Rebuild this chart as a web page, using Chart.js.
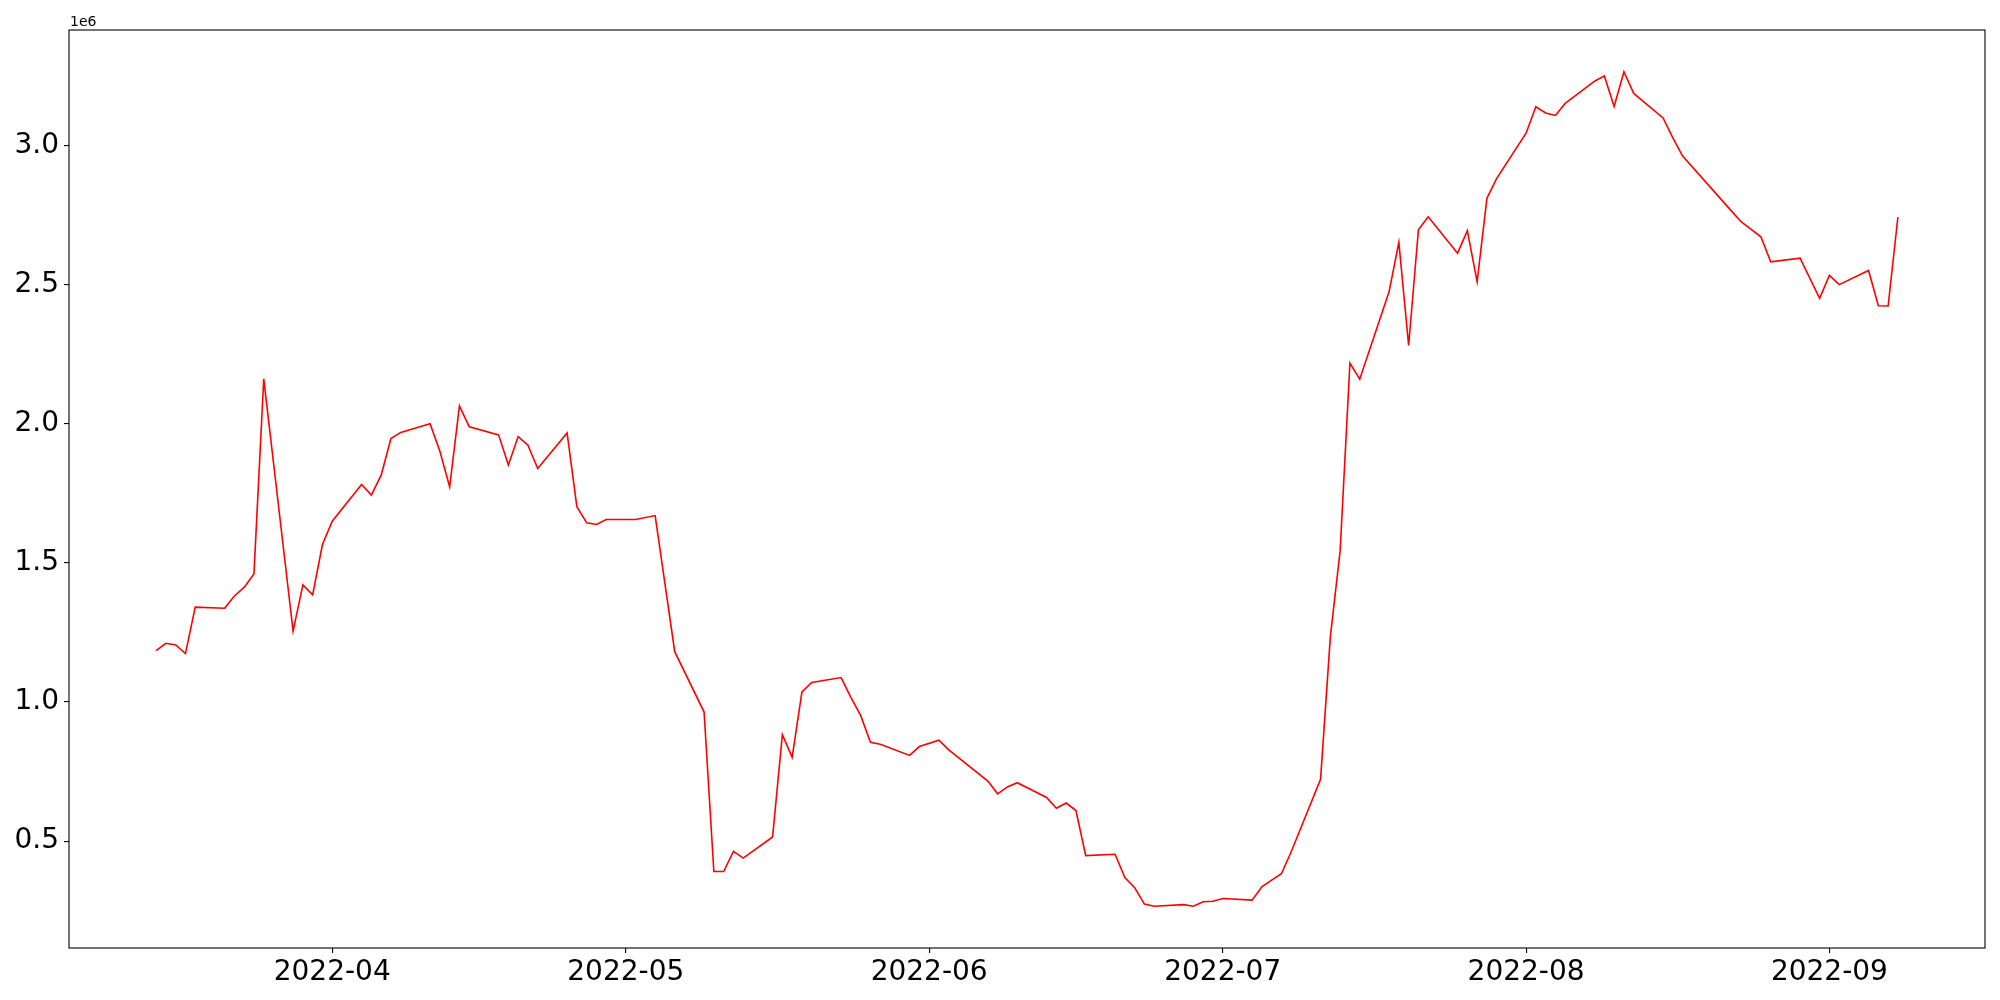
<!DOCTYPE html>
<html>
<head>
<meta charset="utf-8">
<script src="https://cdn.jsdelivr.net/npm/chart.js@4/dist/chart.umd.min.js"></script>
<style>
body { margin: 0; background: #fff; }
#wrap { width: 2000px; height: 1000px; }
</style>
</head>
<body>
<div id="wrap"><canvas id="lineChart"></canvas></div>
<script>
const dates = [
	"2022-03-14", "2022-03-15", "2022-03-16", "2022-03-17", "2022-03-18",
	"2022-03-21", "2022-03-22", "2022-03-23", "2022-03-24", "2022-03-25",
	"2022-03-28", "2022-03-29", "2022-03-30", "2022-03-31", "2022-04-01",
	"2022-04-04", "2022-04-05", "2022-04-06", "2022-04-07", "2022-04-08",
	"2022-04-11", "2022-04-12", "2022-04-13", "2022-04-14", "2022-04-15",
	"2022-04-18", "2022-04-19", "2022-04-20", "2022-04-21", "2022-04-22",
	"2022-04-25", "2022-04-26", "2022-04-27", "2022-04-28", "2022-04-29",
	"2022-05-02", "2022-05-04", "2022-05-06",
	"2022-05-09", "2022-05-10", "2022-05-11", "2022-05-12", "2022-05-13",
	"2022-05-16", "2022-05-17", "2022-05-18", "2022-05-19", "2022-05-20",
	"2022-05-23", "2022-05-24", "2022-05-25", "2022-05-26", "2022-05-27",
	"2022-05-30", "2022-05-31", "2022-06-02", "2022-06-03",
	"2022-06-07", "2022-06-08", "2022-06-09", "2022-06-10",
	"2022-06-13", "2022-06-14", "2022-06-15", "2022-06-16", "2022-06-17",
	"2022-06-20", "2022-06-21", "2022-06-22", "2022-06-23", "2022-06-24",
	"2022-06-27", "2022-06-28", "2022-06-29", "2022-06-30", "2022-07-01",
	"2022-07-04", "2022-07-05", "2022-07-06", "2022-07-07", "2022-07-08",
	"2022-07-11", "2022-07-12", "2022-07-13", "2022-07-14", "2022-07-15",
	"2022-07-18", "2022-07-19", "2022-07-20", "2022-07-21", "2022-07-22",
	"2022-07-25", "2022-07-26", "2022-07-27", "2022-07-28", "2022-07-29",
	"2022-08-01", "2022-08-02", "2022-08-03", "2022-08-04", "2022-08-05",
	"2022-08-08", "2022-08-09", "2022-08-10", "2022-08-11", "2022-08-12",
	"2022-08-15", "2022-08-16", "2022-08-17",
	"2022-08-22", "2022-08-23", "2022-08-25", "2022-08-26",
	"2022-08-29", "2022-08-31", "2022-09-01", "2022-09-02",
	"2022-09-05", "2022-09-06", "2022-09-07", "2022-09-08",
];

const values = [
	1185000, 1211000, 1205000, 1174000, 1341000,
	1337000, 1381000, 1412000, 1460000, 2161000,
	1255000, 1421000, 1385000, 1566000, 1650000,
	1782000, 1744000, 1815000, 1947000, 1969000,
	2000000, 1901000, 1773000, 2064000, 1989000,
	1960000, 1852000, 1954000, 1923000, 1839000,
	1967000, 1702000, 1644000, 1638000, 1656000,
	1656000, 1670000, 1181000,
	964000, 391000, 391000, 463000, 439000,
	515000, 883000, 801000, 1036000, 1070000,
	1088000, 1017000, 952000, 855000, 848000,
	808000, 840000, 863000, 828000,
	716000, 670000, 695000, 710000,
	657000, 618000, 637000, 610000, 448000,
	453000, 369000, 333000, 274000, 266000,
	272000, 266000, 282000, 284000, 294000,
	288000, 336000, 360000, 383000, 462000,
	722000, 1234000, 1543000, 2218000, 2160000,
	2474000, 2652000, 2281000, 2697000, 2744000,
	2613000, 2694000, 2510000, 2810000, 2882000,
	3044000, 3139000, 3117000, 3108000, 3151000,
	3231000, 3250000, 3140000, 3265000, 3187000,
	3099000, 3027000, 2962000,
	2764000, 2725000, 2672000, 2582000,
	2595000, 2451000, 2533000, 2500000,
	2551000, 2424000, 2423000, 2743000,
];

const monthTicks = ["2022-04", "2022-05", "2022-06", "2022-07", "2022-08", "2022-09"];
const yTicks = [500000, 1000000, 1500000, 2000000, 2500000, 3000000];
const offsetLabel = "1e6";

const toDay = (s) => Date.parse(s + "T00:00:00Z") / 86400000;
const points = dates.map((d, i) => ({ x: toDay(d), y: values[i] }));

const xFirst = toDay(dates[0]);
const xLast = toDay(dates[dates.length - 1]);
const xPad = (xLast - xFirst) * 0.05;
const yLow = Math.min(...values);
const yHigh = Math.max(...values);
const yPad = (yHigh - yLow) * 0.05;

const tickFont = { family: "DejaVu Sans", size: 28 };

const frame = {
	id: "frame",
	afterDraw(chart) {
		const { ctx, chartArea: a } = chart;
		ctx.save();
		ctx.strokeStyle = "#000";
		ctx.lineWidth = 1.1;
		ctx.strokeRect(a.left, a.top, a.right - a.left, a.bottom - a.top);
		ctx.font = "14px 'DejaVu Sans'";
		ctx.fillStyle = "#000";
		ctx.textBaseline = "alphabetic";
		ctx.fillText(offsetLabel, a.left + 1, a.top - 4);
		ctx.restore();
	},
};

const canvaLine = document.getElementById("lineChart").getContext("2d");

const myLineChart = new Chart(canvaLine, {
	type: "line",
	data: {
		datasets: [
			{
				data: points,
				borderColor: "#ff0000",
				borderWidth: 1.6,
				pointRadius: 0,
				tension: 0,
				fill: false,
			},
		],
	},
	options: {
		responsive: true,
		maintainAspectRatio: false,
		devicePixelRatio: 1,
		animation: false,
		layout: { padding: { top: 30, right: 15, left: 0, bottom: 0 } },
		plugins: { legend: { display: false }, tooltip: { enabled: false } },
		scales: {
			x: {
				type: "linear",
				min: xFirst - xPad,
				max: xLast + xPad,
				afterBuildTicks: (axis) => {
					axis.ticks = monthTicks.map((m) => ({ value: toDay(m + "-01") }));
				},
				afterFit: (axis) => {
					axis.height = 52;
				},
				ticks: {
					callback: (v) => new Date(v * 86400000).toISOString().slice(0, 7),
					font: tickFont,
					color: "#000",
					maxRotation: 0,
					autoSkip: false,
					padding: 3,
				},
				grid: { drawOnChartArea: false, tickLength: 5, color: "#000", lineWidth: 1.1 },
				border: { display: false },
			},
			y: {
				type: "linear",
				min: yLow - yPad,
				max: yHigh + yPad,
				afterBuildTicks: (axis) => {
					axis.ticks = yTicks.map((v) => ({ value: v }));
				},
				afterFit: (axis) => {
					axis.width = 69;
				},
				ticks: {
					callback: (v) => (v / 1e6).toFixed(1),
					font: tickFont,
					color: "#000",
					padding: 5,
				},
				grid: { drawOnChartArea: false, tickLength: 5, color: "#000", lineWidth: 1.1 },
				border: { display: false },
			},
		},
	},
	plugins: [frame],
});
</script>
</body>
</html>
